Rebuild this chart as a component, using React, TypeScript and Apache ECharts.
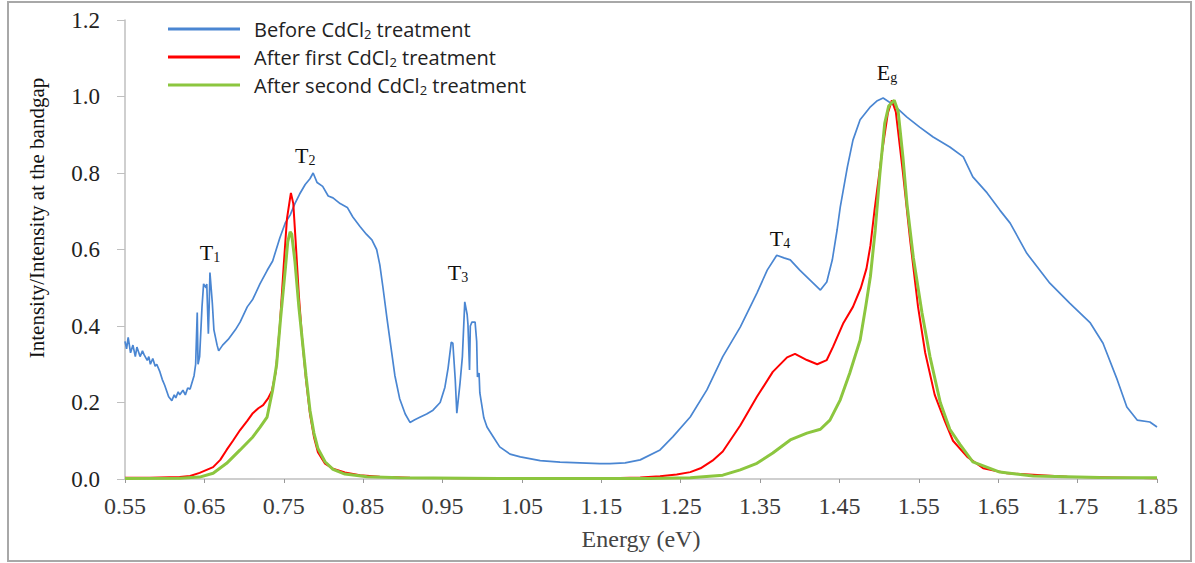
import React, { useEffect, useRef } from "react";
import * as echarts from "echarts";

// Energy (eV) and normalized intensity
const beforeE = [0.550,0.552,0.554,0.557,0.560,0.563,0.565,0.569,0.572,0.574,0.578,0.580,0.582,0.585,0.588,0.590,0.594,0.597,0.600,0.605,0.609,0.612,0.614,0.617,0.619,0.623,0.626,0.629,0.632,0.637,0.639,0.641,0.642,0.644,0.647,0.649,0.652,0.653,0.655,0.656,0.657,0.660,0.662,0.666,0.668,0.673,0.680,0.689,0.695,0.704,0.711,0.720,0.729,0.736,0.745,0.752,0.758,0.764,0.770,0.777,0.783,0.787,0.792,0.799,0.806,0.812,0.821,0.830,0.837,0.846,0.854,0.861,0.867,0.871,0.875,0.880,0.884,0.890,0.896,0.903,0.909,0.915,0.922,0.930,0.938,0.947,0.953,0.957,0.961,0.963,0.966,0.968,0.972,0.975,0.978,0.981,0.982,0.984,0.985,0.987,0.991,0.993,0.994,0.996,0.997,1.002,1.006,1.014,1.022,1.035,1.048,1.073,1.098,1.148,1.161,1.180,1.199,1.224,1.240,1.262,1.283,1.303,1.325,1.346,1.359,1.371,1.380,1.388,1.400,1.413,1.426,1.434,1.441,1.447,1.451,1.460,1.467,1.476,1.489,1.497,1.505,1.518,1.535,1.551,1.568,1.589,1.606,1.618,1.636,1.652,1.665,1.686,1.715,1.740,1.766,1.782,1.800,1.812,1.825,1.841,1.850];
const beforeI = [0.36,0.34,0.37,0.33,0.35,0.32,0.345,0.32,0.335,0.325,0.31,0.32,0.30,0.315,0.295,0.30,0.28,0.26,0.245,0.215,0.205,0.22,0.212,0.228,0.22,0.232,0.22,0.238,0.235,0.27,0.30,0.435,0.30,0.32,0.45,0.51,0.50,0.51,0.38,0.45,0.54,0.46,0.39,0.35,0.335,0.35,0.365,0.39,0.41,0.45,0.47,0.51,0.545,0.57,0.63,0.67,0.69,0.72,0.745,0.77,0.785,0.80,0.775,0.765,0.74,0.735,0.72,0.71,0.685,0.66,0.64,0.625,0.60,0.56,0.50,0.42,0.36,0.27,0.21,0.17,0.148,0.155,0.162,0.17,0.18,0.20,0.24,0.29,0.358,0.355,0.26,0.172,0.25,0.32,0.463,0.43,0.405,0.285,0.40,0.41,0.41,0.36,0.267,0.277,0.225,0.16,0.136,0.11,0.084,0.065,0.058,0.048,0.044,0.04,0.04,0.042,0.05,0.076,0.11,0.162,0.233,0.32,0.397,0.486,0.546,0.585,0.578,0.573,0.546,0.52,0.494,0.515,0.573,0.651,0.711,0.816,0.886,0.939,0.973,0.988,0.996,0.978,0.946,0.92,0.894,0.868,0.842,0.79,0.748,0.703,0.669,0.59,0.512,0.46,0.408,0.355,0.259,0.188,0.154,0.149,0.136];

const firstE = [0.550,0.581,0.619,0.632,0.644,0.661,0.670,0.678,0.686,0.695,0.704,0.711,0.718,0.724,0.730,0.735,0.740,0.745,0.750,0.754,0.758,0.759,0.762,0.765,0.769,0.773,0.778,0.783,0.788,0.793,0.802,0.812,0.827,0.846,0.871,0.909,1.022,1.148,1.199,1.224,1.245,1.262,1.275,1.290,1.303,1.325,1.346,1.366,1.384,1.394,1.409,1.422,1.434,1.442,1.455,1.467,1.477,1.484,1.489,1.494,1.504,1.511,1.516,1.521,1.530,1.539,1.549,1.558,1.570,1.583,1.593,1.611,1.631,1.661,1.737,1.850];
const firstI = [0.003,0.003,0.005,0.008,0.016,0.031,0.05,0.076,0.10,0.128,0.152,0.172,0.185,0.193,0.21,0.23,0.28,0.40,0.56,0.68,0.735,0.748,0.72,0.62,0.48,0.37,0.26,0.17,0.11,0.07,0.04,0.027,0.017,0.01,0.006,0.003,0.001,0.001,0.004,0.007,0.012,0.018,0.028,0.048,0.072,0.14,0.215,0.28,0.318,0.327,0.311,0.30,0.311,0.346,0.408,0.45,0.50,0.55,0.61,0.70,0.86,0.957,0.99,0.96,0.80,0.625,0.45,0.33,0.22,0.15,0.10,0.058,0.028,0.015,0.006,0.002];

const secondE = [0.550,0.619,0.644,0.661,0.678,0.695,0.711,0.720,0.729,0.736,0.741,0.746,0.752,0.755,0.758,0.760,0.764,0.769,0.773,0.778,0.783,0.788,0.793,0.802,0.812,0.827,0.855,0.896,1.022,1.211,1.262,1.303,1.325,1.346,1.366,1.388,1.409,1.426,1.438,1.451,1.463,1.476,1.483,1.489,1.495,1.501,1.507,1.512,1.519,1.524,1.530,1.535,1.543,1.554,1.564,1.577,1.589,1.602,1.618,1.652,1.694,1.778,1.850];
const secondI = [0.001,0.002,0.005,0.015,0.041,0.076,0.11,0.135,0.162,0.233,0.30,0.42,0.55,0.62,0.646,0.64,0.57,0.45,0.37,0.27,0.18,0.12,0.08,0.045,0.025,0.013,0.006,0.003,0.001,0.001,0.003,0.01,0.024,0.041,0.068,0.102,0.12,0.13,0.154,0.207,0.277,0.363,0.45,0.53,0.65,0.80,0.93,0.975,0.99,0.96,0.84,0.72,0.58,0.434,0.32,0.20,0.13,0.09,0.045,0.018,0.008,0.004,0.003];

const xTicks = [0.55,0.65,0.75,0.85,0.95,1.05,1.15,1.25,1.35,1.45,1.55,1.65,1.75,1.85];
const seriesNames = ["Before CdCl2 treatment", "After first CdCl2 treatment", "After second CdCl2 treatment"];
const seriesColors = ["#4a86d2", "#ff0000", "#8cc63f"];

// peak labels: [name, subscript, energy, intensity]
const peakLabels: [string, string, number, number][] = [
  ["T", "1", 0.657, 0.593],
  ["T", "2", 0.777, 0.847],
  ["T", "3", 0.9695, 0.541],
  ["T", "4", 1.375, 0.63],
  ["E", "g", 1.51, 1.064],
];

const zip = (a: number[], b: number[]) => a.map((v, i) => [v, b[i]]);

export default function App() {
  const ref = useRef<HTMLDivElement>(null);
  useEffect(() => {
    if (!ref.current) return;
    const chart = echarts.init(ref.current, undefined, { renderer: "svg" });
    const serif = "'Liberation Serif', 'Times New Roman', serif";
    const sans = "'Open Sans', 'Noto Sans', sans-serif";
    const legendFmt = (name: string) => {
      const parts = name.split("CdCl2");
      return `{a|${parts[0]}CdCl}{s|2}{a|${parts[1]}}`;
    };
    const option: any = {
      animation: false,
      backgroundColor: "#ffffff",
      grid: { left: 125, right: 38, top: 20, bottom: 84 },
      legend: {
        orient: "vertical",
        left: 163,
        top: 14,
        itemWidth: 72,
        itemHeight: 3,
        itemGap: 7,
        icon: "rect",
        data: seriesNames,
        formatter: legendFmt,
        textStyle: {
          padding: [0, 0, 0, 9],
          rich: {
            a: { fontFamily: sans, fontSize: 20, color: "#222", lineHeight: 22 },
            s: { fontFamily: sans, fontSize: 13, color: "#222", lineHeight: 11, verticalAlign: "bottom" },
          },
        },
      },
      xAxis: {
        type: "value",
        min: 0.55,
        max: 1.85,
        name: "Energy (eV)",
        nameLocation: "middle",
        nameGap: 48,
        nameTextStyle: { fontFamily: serif, fontSize: 24, color: "#444" },
        axisLine: { lineStyle: { color: "#bfbfbf", width: 1.5 } },
        axisTick: { show: true, length: 4, customValues: xTicks, lineStyle: { color: "#999" } },
        splitLine: { show: false },
        axisLabel: {
          customValues: xTicks,
          formatter: (v: number) => v.toFixed(2),
          fontFamily: serif,
          fontSize: 24,
          color: "#3a3a3a",
          margin: 15,
        },
      },
      yAxis: {
        type: "value",
        min: 0,
        max: 1.2,
        interval: 0.2,
        axisLine: { show: true, lineStyle: { color: "#bfbfbf", width: 1.5 } },
        axisTick: { show: true, length: 8, lineStyle: { color: "#bfbfbf" } },
        splitLine: { show: false },
        axisLabel: {
          formatter: (v: number) => v.toFixed(1),
          fontFamily: serif,
          fontSize: 23,
          color: "#222",
          margin: 25,
        },
      },
      graphic: [
        {
          type: "rect",
          shape: { x: 8, y: 2, width: 1183, height: 559 },
          style: { fill: "none", stroke: "#a8a8a8", lineWidth: 2 },
          silent: true,
        },
        {
          type: "text",
          x: 37,
          y: 218,
          rotation: Math.PI / 2,
          style: {
            text: "Intensity/Intensity at the bandgap",
            fontFamily: serif,
            fontSize: 21,
            fill: "#111",
            textAlign: "center",
            textVerticalAlign: "middle",
            align: "center",
            verticalAlign: "middle",
          },
        },
      ],
      series: [
        {
          name: seriesNames[0],
          type: "line",
          data: zip(beforeE, beforeI),
          showSymbol: false,
          lineStyle: { color: seriesColors[0], width: 1.7 },
          itemStyle: { color: seriesColors[0] },
          z: 2,
          markPoint: {
            symbol: "rect",
            symbolSize: 1,
            itemStyle: { color: "rgba(0,0,0,0)" },
            label: {
              show: true,
              position: "inside",
              formatter: (p: any) => `{t|${p.data.t}}{s|${p.data.s}}`,
              rich: {
                t: { fontFamily: serif, fontSize: 22, color: "#111", lineHeight: 24 },
                s: { fontFamily: serif, fontSize: 14, color: "#111", lineHeight: 10, verticalAlign: "bottom" },
              },
            },
            data: peakLabels.map(([t, s, e, i]) => ({ coord: [e, i], t, s })),
          },
        },
        {
          name: seriesNames[1],
          type: "line",
          data: zip(firstE, firstI),
          showSymbol: false,
          lineStyle: { color: seriesColors[1], width: 2 },
          itemStyle: { color: seriesColors[1] },
          z: 3,
        },
        {
          name: seriesNames[2],
          type: "line",
          data: zip(secondE, secondI),
          showSymbol: false,
          lineStyle: { color: seriesColors[2], width: 3 },
          itemStyle: { color: seriesColors[2] },
          z: 4,
        },
      ],
    };
    chart.setOption(option);
    return () => chart.dispose();
  }, []);
  return (
    <div
      ref={ref}
      style={{ position: "fixed", left: 0, top: 0, width: 1195, height: 563 }}
    />
  );
}
